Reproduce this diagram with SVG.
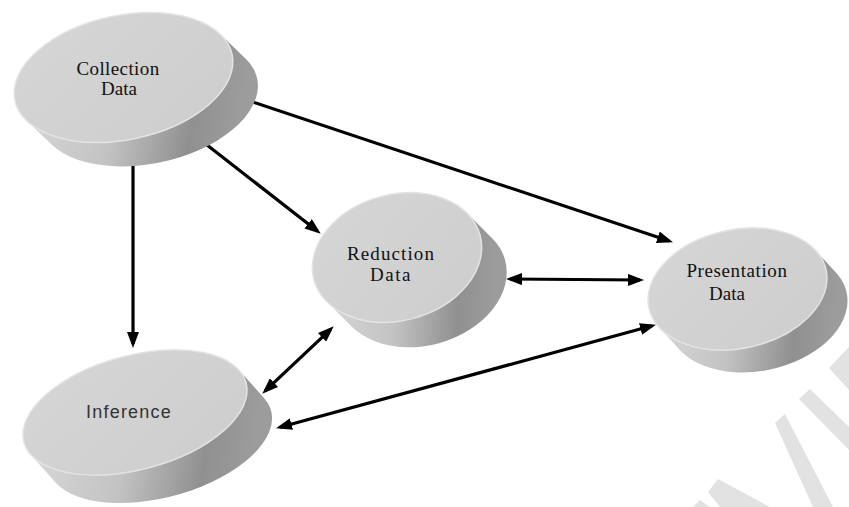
<svg xmlns="http://www.w3.org/2000/svg" width="849" height="507" viewBox="0 0 849 507">
<style>
.side{fill:url(#sideG);}
.top{fill:url(#topG);stroke:#e3e3e3;stroke-width:1.5;}
.lbl{font-family:"Liberation Serif","Times New Roman",serif;font-size:19px;fill:#111;text-anchor:middle;}
.lbl2{font-family:"Liberation Sans",Arial,sans-serif;font-size:18px;fill:#333;text-anchor:middle;letter-spacing:1.2px;}
.conn{stroke:#000;stroke-width:3.2;fill:none;}
.wm{fill:#e2e2e2;}
</style>
<defs>
<linearGradient id="sideG" x1="0" y1="0" x2="1" y2="0.2">
<stop offset="0" stop-color="#dadada"/>
<stop offset="0.45" stop-color="#c3c3c3"/>
<stop offset="0.8" stop-color="#909090"/>
<stop offset="1" stop-color="#9c9c9c"/>
</linearGradient>
<linearGradient id="topG" x1="0" y1="0" x2="1" y2="1">
<stop offset="0" stop-color="#d6d6d6"/>
<stop offset="1" stop-color="#cdcdcd"/>
</linearGradient>
<marker id="ah" markerUnits="userSpaceOnUse" markerWidth="16" markerHeight="12" refX="12" refY="6" orient="auto-start-reverse" viewBox="0 0 16 12">
<path d="M0,0 L16,6 L0,12 z" fill="#000"/>
</marker>
</defs>
<rect width="849" height="507" fill="#fff"/>
<g id="watermark">
<polygon class="wm" points="849,347 829,368 849,390"/>
<polygon class="wm" points="810,389 849,427 849,450 799,399"/>
<polygon class="wm" points="775,423 785,414 833,507 813,507"/>
<polygon class="wm" points="708,492 718,479 770,507 720,507"/>
<polygon class="wm" points="693,507 700,500 710,507"/>
</g>
<g id="connectors">
<line class="conn" x1="133" y1="152" x2="133" y2="344" marker-end="url(#ah)"/>
<line class="conn" x1="207" y1="145" x2="317.6" y2="231.2" marker-end="url(#ah)"/>
<line class="conn" x1="250" y1="101" x2="669.2" y2="241" marker-end="url(#ah)"/>
<line class="conn" x1="510" y1="279" x2="640" y2="280" marker-start="url(#ah)" marker-end="url(#ah)"/>
<line class="conn" x1="330.8" y1="329.1" x2="265.2" y2="390.9" marker-start="url(#ah)" marker-end="url(#ah)"/>
<line class="conn" x1="652.1" y1="325.8" x2="279.9" y2="427.2" marker-start="url(#ah)" marker-end="url(#ah)"/>
</g>
<g id="collection">
<g transform="translate(123.5,77.5) rotate(-12)">
<path class="side" d="M103.8,-22 L123.3,6.7 A111,62 0 0 1 -84.3,50.7 L-103.8,22 Z"/>
<ellipse class="top" cx="0" cy="0" rx="111" ry="62"/>
</g>
<text class="lbl" x="118" y="75" letter-spacing="0.4">Collection</text>
<text class="lbl" x="119" y="95">Data</text>
</g>
<g id="reduction">
<g transform="translate(397,257.5) rotate(-15)">
<path class="side" d="M79.2,-24.6 L96.9,6 A86,63 0 0 1 -61.5,55.2 L-79.2,24.6 Z"/>
<ellipse class="top" cx="0" cy="0" rx="86" ry="63"/>
</g>
<text class="lbl" x="391" y="260" font-size="20" letter-spacing="1.1">Reduction</text>
<text class="lbl" x="391" y="281" font-size="20" letter-spacing="1.5">Data</text>
</g>
<g id="presentation">
<g transform="translate(737.5,289) rotate(-12)">
<path class="side" d="M84.5,-21.3 L101,6.75 A90.6,59.3 0 0 1 -68,49.35 L-84.5,21.3 Z"/>
<ellipse class="top" cx="0" cy="0" rx="90.6" ry="59.3"/>
</g>
<text class="lbl" x="737" y="277" letter-spacing="0.6">Presentation</text>
<text class="lbl" x="727" y="300">Data</text>
</g>
<g id="inference">
<g transform="translate(135,412.5) rotate(-15)">
<path class="side" d="M111.6,-13.8 L128.5,19.7 A115,57 0 0 1 -94.7,47.3 L-111.6,13.8 Z"/>
<ellipse class="top" cx="0" cy="0" rx="115" ry="57"/>
</g>
<text class="lbl2" x="129" y="418">Inference</text>
</g>
</svg>
